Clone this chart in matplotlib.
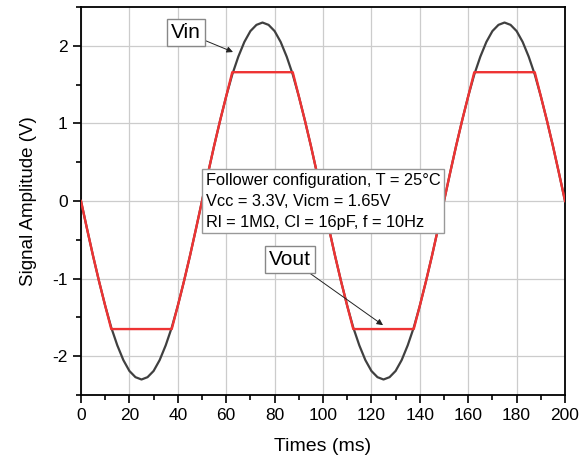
import numpy as np
import matplotlib
matplotlib.use('Agg')
import matplotlib.pyplot as plt

plt.rcParams['font.family'] = ['Liberation Sans', 'DejaVu Sans']
plt.rcParams['axes.unicode_minus'] = False

# Vin every 2.5 ms (0..200 ms)
t = [i * 2.5 for i in range(81)]
vin = [0.0, -0.36, -0.71, -1.04, -1.35, -1.63, -1.86, -2.05, -2.19, -2.27, -2.30,
       -2.27, -2.19, -2.05, -1.86, -1.63, -1.35, -1.04, -0.71, -0.36, 0.0,
       0.36, 0.71, 1.04, 1.35, 1.63, 1.86, 2.05, 2.19, 2.27, 2.30,
       2.27, 2.19, 2.05, 1.86, 1.63, 1.35, 1.04, 0.71, 0.36, 0.0,
       -0.36, -0.71, -1.04, -1.35, -1.63, -1.86, -2.05, -2.19, -2.27, -2.30,
       -2.27, -2.19, -2.05, -1.86, -1.63, -1.35, -1.04, -0.71, -0.36, 0.0,
       0.36, 0.71, 1.04, 1.35, 1.63, 1.86, 2.05, 2.19, 2.27, 2.30,
       2.27, 2.19, 2.05, 1.86, 1.63, 1.35, 1.04, 0.71, 0.36, 0.0]

# Vout: follows Vin, flat at the rails
vout = [0.0, -0.36, -0.71, -1.04, -1.35, -1.65, -1.65, -1.65, -1.65, -1.65, -1.65,
        -1.65, -1.65, -1.65, -1.65, -1.65, -1.35, -1.04, -0.71, -0.36, 0.0,
        0.36, 0.71, 1.04, 1.35, 1.66, 1.66, 1.66, 1.66, 1.66, 1.66,
        1.66, 1.66, 1.66, 1.66, 1.66, 1.35, 1.04, 0.71, 0.36, 0.0,
        -0.36, -0.71, -1.04, -1.35, -1.65, -1.65, -1.65, -1.65, -1.65, -1.65,
        -1.65, -1.65, -1.65, -1.65, -1.65, -1.35, -1.04, -0.71, -0.36, 0.0,
        0.36, 0.71, 1.04, 1.35, 1.66, 1.66, 1.66, 1.66, 1.66, 1.66,
        1.66, 1.66, 1.66, 1.66, 1.66, 1.35, 1.04, 0.71, 0.36, 0.0]

fig = plt.figure(figsize=(5.84, 4.59), dpi=100)
ax = fig.add_axes([0.1387, 0.1394, 0.8288, 0.8453])

ax.plot(t, vin, color='#404040', lw=1.6, zorder=3)
ax.plot(t, vout, color='#ee3333', lw=1.7, zorder=4)

ax.set_xlim(0, 200)
ax.set_ylim(-2.5, 2.5)
ax.set_xticks(np.arange(0, 201, 20))
ax.set_xticks(np.arange(0, 201, 10), minor=True)
ax.set_yticks([-2, -1, 0, 1, 2])
ax.set_yticks(np.arange(-2.5, 2.51, 0.5), minor=True)
ax.tick_params(which='both', direction='out', labelsize=12.5, width=1.2)
ax.tick_params(which='major', length=6)
ax.tick_params(which='minor', length=3.5)
ax.grid(True, which='major', color='#cccccc', lw=0.9)
ax.set_axisbelow(True)
for s in ax.spines.values():
    s.set_linewidth(1.3)

ax.set_xlabel('Times (ms)', fontsize=14, labelpad=11)
ax.set_ylabel('Signal Amplitude (V)', fontsize=13.5, labelpad=11)

ax.text(51.5, 0.0, 'Follower configuration, T = 25\u00b0C\nVcc = 3.3V, Vicm = 1.65V\nRl = 1M\u03a9, Cl = 16pF, f = 10Hz',
        fontsize=11.8, va='center', ha='left', linespacing=1.5, zorder=6,
        bbox=dict(boxstyle='square,pad=0.2', fc='white', ec='#999999', lw=1))

box = dict(boxstyle='square,pad=0.2', fc='white', ec='#888888', lw=1)
arrow = dict(arrowstyle='-|>', color='#222222', lw=0.7, mutation_scale=9, shrinkA=0, shrinkB=0)
ax.annotate('Vin', xy=(62.8, 1.92), xytext=(43.4, 2.17), fontsize=15,
            ha='center', va='center', bbox=box, arrowprops=arrow, zorder=6)
ax.annotate('Vout', xy=(124.8, -1.6), xytext=(86.4, -0.75), fontsize=15,
            ha='center', va='center', bbox=box, arrowprops=arrow, zorder=6)

fig.savefig('out.png', dpi=100)
